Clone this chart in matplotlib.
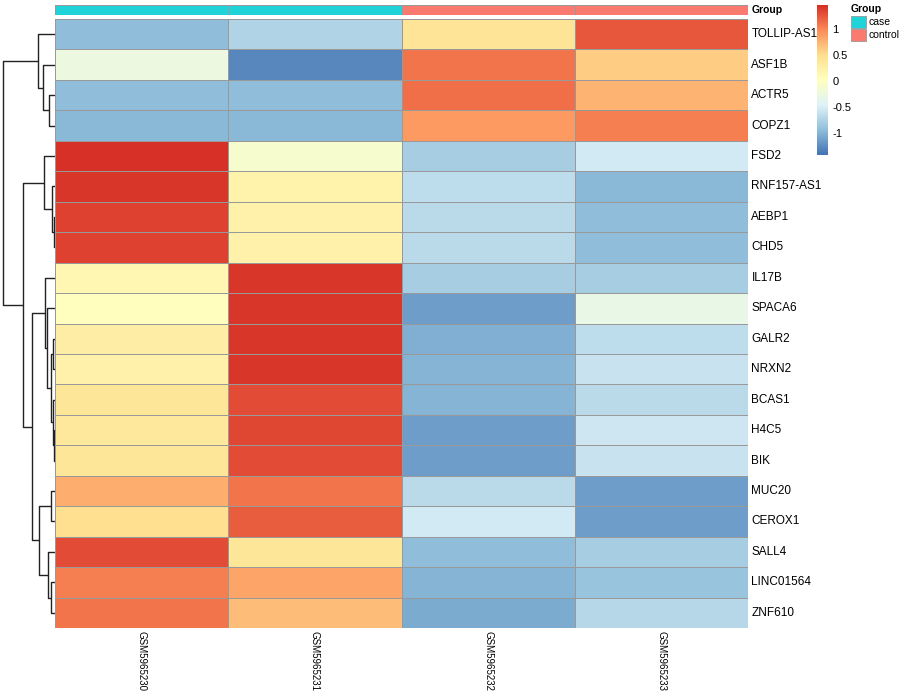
import matplotlib
matplotlib.use("Agg")
import matplotlib.pyplot as plt
import numpy as np
from matplotlib.colors import LinearSegmentedColormap, ListedColormap
from matplotlib.patches import Rectangle

plt.rcParams['font.family'] = ['Liberation Sans', 'DejaVu Sans']

genes = ['TOLLIP-AS1', 'ASF1B', 'ACTR5', 'COPZ1', 'FSD2', 'RNF157-AS1', 'AEBP1',
         'CHD5', 'IL17B', 'SPACA6', 'GALR2', 'NRXN2', 'BCAS1', 'H4C5', 'BIK',
         'MUC20', 'CEROX1', 'SALL4', 'LINC01564', 'ZNF610']
samples = ['GSM5965230', 'GSM5965231', 'GSM5965232', 'GSM5965233']
groups = ['case', 'case', 'control', 'control']

# row-scaled expression
gsm30 = [-0.95, -0.25, -0.95, -0.97, 1.47, 1.42, 1.38, 1.38, 0.15, 0.03,
         0.30, 0.25, 0.40, 0.38, 0.42, 0.80, 0.50, 1.30, 1.05, 1.12]
gsm31 = [-0.75, -1.30, -0.95, -0.97, -0.10, 0.20, 0.25, 0.25, 1.43, 1.43,
         1.42, 1.43, 1.30, 1.35, 1.30, 1.12, 1.22, 0.40, 0.85, 0.70]
gsm32 = [0.45, 1.10, 1.15, 0.90, -0.80, -0.65, -0.68, -0.68, -0.80, -1.15,
         -1.05, -1.00, -1.02, -1.15, -1.15, -0.68, -0.55, -0.95, -1.00, -1.08]
gsm33 = [1.25, 0.60, 0.75, 1.05, -0.55, -0.97, -0.95, -0.95, -0.82, -0.30,
         -0.65, -0.60, -0.70, -0.58, -0.60, -1.15, -1.15, -0.80, -0.90, -0.72]

# colour scale limits (breaks range of the legend)
scale_min, scale_max = -1.43, 1.47

# row dendrogram (leaves = row positions, new clusters numbered from 20)
merge_left = [2, 1, 0, 6, 5, 4, 10, 13, 12, 26, 9, 8, 15, 18, 17, 32, 31, 25, 22]
merge_right = [3, 20, 21, 7, 23, 24, 11, 14, 27, 28, 29, 30, 16, 19, 33, 34, 35, 36, 37]
merge_height = [6.0, 12.0, 17.0, 1.0, 2.7, 10.7, 1.7, 1.5, 2.0, 4.3, 8.0, 9.7,
                4.0, 4.3, 6.7, 15.7, 22.7, 31.7, 52.3]

group_colors = {'case': '#20D3D8', 'control': '#FA7A70'}
palette = ['#4575B4', '#91BFDB', '#E0F3F8', '#FFFFBF', '#FEE090', '#FC8D59', '#D73027']
cmap = LinearSegmentedColormap.from_list('rdylbu', palette, N=100)

data = np.column_stack([gsm30, gsm31, gsm32, gsm33])
nr, nc = data.shape

W, H = 900, 700
fig = plt.figure(figsize=(9, 7), dpi=100)

def px_axes(x0, y0, x1, y1):
    return fig.add_axes([x0 / W, 1 - y1 / H, (x1 - x0) / W, (y1 - y0) / H])

# heatmap
ax = px_axes(55, 19, 748, 628)
ax.pcolormesh(data, cmap=cmap, vmin=scale_min, vmax=scale_max,
              edgecolors='#999999', linewidth=0.6)
ax.set_xlim(0, nc)
ax.set_ylim(nr, 0)
ax.set_xticks([])
ax.set_yticks([])
for s in ax.spines.values():
    s.set_visible(False)
for i, g in enumerate(genes):
    ax.text(nc + 0.02, i + 0.5, g, va='center', ha='left', fontsize=8.5)
for j, s in enumerate(samples):
    ax.text(j + 0.5, nr + 0.1, s, rotation=270, va='top', ha='center', fontsize=7)

# annotation bar
ax_a = px_axes(55, 5, 748, 15)
gcm = ListedColormap([group_colors['case'], group_colors['control']])
ax_a.pcolormesh(np.array([[0 if g == 'case' else 1 for g in groups]]), cmap=gcm,
                vmin=0, vmax=1, edgecolors='#999999', linewidth=0.6)
ax_a.set_xlim(0, nc)
ax_a.set_ylim(1, 0)
ax_a.axis('off')
ax_a.text(nc + 0.02, 0.5, 'Group', va='center', ha='left', fontsize=7.5, fontweight='bold')

# dendrogram
ax_d = px_axes(0, 19, 55, 628)
pos = {i: i + 0.5 for i in range(nr)}
hgt = {i: 0.0 for i in range(nr)}
for k, (a, b, h) in enumerate(zip(merge_left, merge_right, merge_height)):
    ax_d.plot([hgt[a], h, h, hgt[b]], [pos[a], pos[a], pos[b], pos[b]],
              color='#222222', linewidth=1.0, solid_capstyle='butt')
    pos[nr + k] = (pos[a] + pos[b]) / 2
    hgt[nr + k] = h
ax_d.set_xlim(55, 0)
ax_d.set_ylim(nr, 0)
ax_d.axis('off')

# colour legend
ax_c = px_axes(817, 5, 828, 155)
grad = np.linspace(scale_min, scale_max, 100).reshape(-1, 1)
ax_c.imshow(grad, cmap=cmap, vmin=scale_min, vmax=scale_max, aspect='auto',
            origin='lower', extent=[0, 1, scale_min, scale_max])
ax_c.set_xticks([])
ax_c.yaxis.tick_right()
ax_c.set_yticks([-1, -0.5, 0, 0.5, 1])
ax_c.set_yticklabels(['-1', '-0.5', '0', '0.5', '1'])
ax_c.tick_params(axis='y', length=0, labelsize=8, pad=3)
for s in ax_c.spines.values():
    s.set_visible(False)

# group legend
ax_l = px_axes(848, 0, 900, 45)
ax_l.set_xlim(848, 900)
ax_l.set_ylim(45, 0)
ax_l.axis('off')
ax_l.text(851, 9, 'Group', fontsize=7.5, fontweight='bold', va='center', ha='left')
for k, g in enumerate(['case', 'control']):
    ax_l.add_patch(Rectangle((851, 16 + 12.5 * k), 15, 12, facecolor=group_colors[g],
                             edgecolor='#999999', linewidth=0.6))
    ax_l.text(869, 22 + 12.5 * k, g, fontsize=7.5, va='center', ha='left')

fig.savefig('out.png', dpi=100)
